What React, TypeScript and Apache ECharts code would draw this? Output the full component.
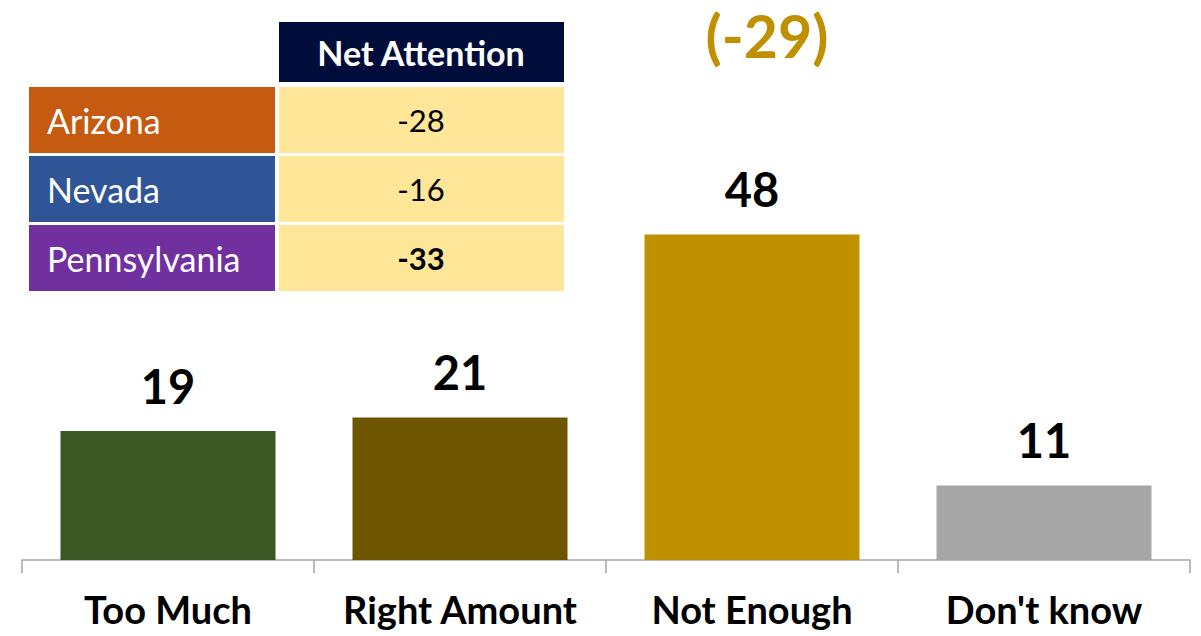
import React, { useEffect, useRef } from "react";
import * as echarts from "echarts";

const categories = ["Too Much", "Right Amount", "Not Enough", "Don't know"];
const values = [19, 21, 48, 11];
const barColors = ["#3A5724", "#6E5500", "#BF9000", "#A6A6A6"];

const tableHeader = "Net Attention";
const stateNames = ["Arizona", "Nevada", "Pennsylvania"];
const stateValues = ["-28", "-16", "-33"];
const stateBold = [false, false, true];
const stateColors = ["#C55A11", "#2F5597", "#7030A0"];
const overallNet = "(-29)";

const FONT = "Lato, 'Open Sans', sans-serif";

export default function App() {
  const ref = useRef<HTMLDivElement>(null);
  useEffect(() => {
    if (!ref.current) return;
    const chart = echarts.init(ref.current, undefined, { renderer: "svg" });

    const graphics: any[] = [];
    graphics.push({
      type: "rect",
      shape: { x: 279, y: 22, width: 285, height: 60 },
      style: { fill: "#000D3A" },
    });
    graphics.push({
      type: "text",
      x: 421,
      y: 52,
      style: {
        text: tableHeader,
        fill: "#fff",
        font: `bold 34px ${FONT}`,
        align: "center",
        verticalAlign: "middle",
      },
    });
    const rowTops = [87, 156, 225];
    const rowH = 66;
    stateNames.forEach((name, i) => {
      const y = rowTops[i];
      graphics.push({
        type: "rect",
        shape: { x: 29, y, width: 246, height: rowH },
        style: { fill: stateColors[i] },
      });
      graphics.push({
        type: "rect",
        shape: { x: 279, y, width: 285, height: rowH },
        style: { fill: "#FFE699" },
      });
      graphics.push({
        type: "text",
        x: 47,
        y: y + rowH / 2,
        style: {
          text: name,
          fill: "#fff",
          font: `34px ${FONT}`,
          align: "left",
          verticalAlign: "middle",
        },
      });
      graphics.push({
        type: "text",
        x: 421,
        y: y + rowH / 2,
        style: {
          text: stateValues[i],
          fill: "#000",
          font: `${stateBold[i] ? "bold " : ""}31px ${FONT}`,
          align: "center",
          verticalAlign: "middle",
        },
      });
    });
    graphics.push({
      type: "text",
      x: 767,
      y: 35,
      style: {
        text: overallNet,
        fill: "#BF9000",
        font: `bold 59px ${FONT}`,
        align: "center",
        verticalAlign: "middle",
      },
    });

    chart.setOption({
      animation: false,
      grid: { left: 22, right: 11, top: 153, bottom: 76, containLabel: false },
      xAxis: {
        type: "category",
        data: categories,
        axisLine: { show: true, lineStyle: { color: "#A6A6A6", width: 1.5 } },
        axisTick: { show: true, length: 13, lineStyle: { color: "#A6A6A6", width: 1.5 } },
        axisLabel: {
          color: "#000",
          fontFamily: FONT,
          fontWeight: "bold",
          fontSize: 38,
          lineHeight: 38,
          margin: 30,
          interval: 0,
        },
      },
      yAxis: {
        type: "value",
        min: 0,
        max: 60,
        show: false,
        splitLine: { show: false },
      },
      series: [
        {
          type: "bar",
          data: values.map((v, i) => ({ value: v, itemStyle: { color: barColors[i] } })),
          barWidth: 215,
          label: {
            show: true,
            position: "top",
            distance: 22,
            color: "#000",
            fontFamily: FONT,
            fontWeight: "bold",
            fontSize: 47,
          },
        },
      ],
      graphic: graphics,
    });
    return () => chart.dispose();
  }, []);
  return (
    <div
      ref={ref}
      style={{ position: "absolute", left: 0, top: 0, width: 1201, height: 636, background: "#fff" }}
    />
  );
}
